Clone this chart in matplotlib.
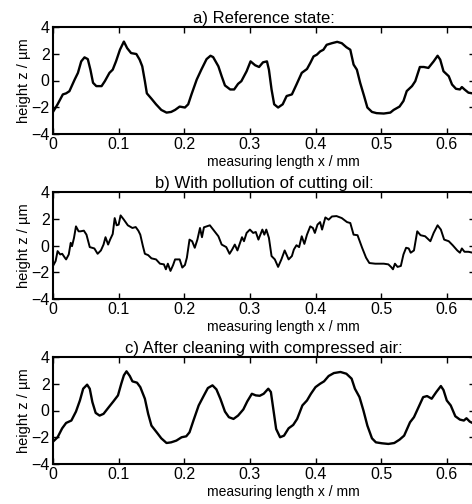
import matplotlib
matplotlib.use("Agg")
import matplotlib.pyplot as plt
import numpy as np

plt.rcParams['font.family'] = ['Liberation Sans', 'DejaVu Sans']

# a) reference state
xa = [0.0, 0.007, 0.015, 0.02, 0.025, 0.033, 0.038, 0.043, 0.048, 0.053, 0.057, 0.061, 0.066,
      0.074, 0.079, 0.086, 0.091, 0.096, 0.102, 0.108, 0.113, 0.119, 0.127, 0.132, 0.136, 0.14,
      0.143, 0.15, 0.157, 0.165, 0.173, 0.18, 0.186, 0.193, 0.201, 0.206, 0.211, 0.219, 0.226,
      0.234, 0.24, 0.244, 0.252, 0.257, 0.262, 0.27, 0.276, 0.282, 0.287, 0.295, 0.301, 0.308,
      0.314, 0.32, 0.326, 0.329, 0.333, 0.337, 0.343, 0.35, 0.356, 0.364, 0.371, 0.379, 0.387,
      0.392, 0.397, 0.402, 0.407, 0.412, 0.417, 0.425, 0.433, 0.44, 0.447, 0.453, 0.458, 0.463,
      0.468, 0.474, 0.479, 0.486, 0.493, 0.504, 0.514, 0.519, 0.528, 0.534, 0.539, 0.547, 0.552,
      0.559, 0.565, 0.572, 0.58, 0.586, 0.59, 0.595, 0.603, 0.608, 0.614, 0.62, 0.623, 0.627,
      0.633, 0.639, 0.645]
za = [-2.35, -1.78, -1.04, -0.96, -0.8, 0.07, 0.57, 1.43, 1.73, 1.6, 0.81, -0.17, -0.42,
      -0.42, -0.05, 0.57, 0.81, 1.43, 2.3, 2.91, 2.42, 2.05, 1.98, 1.56, 1.06, -0.05,
      -0.96, -1.36, -1.78, -2.2, -2.4, -2.35, -2.2, -1.95, -2.02, -1.78, -1.04, 0.07, 0.81,
      1.6, 1.85, 1.75, 1.06, 0.32, -0.37, -0.67, -0.67, -0.25, -0.05, 0.69, 1.43, 1.14,
      1.01, 1.36, 1.43, 0.81, -0.67, -1.78, -2.02, -1.78, -1.16, -1.04, -0.3, 0.57, 0.86,
      1.31, 1.8, 1.93, 2.17, 2.3, 2.67, 2.79, 2.89, 2.79, 2.49, 2.3, 1.19, 0.81,
      -0.17, -1.16, -2.02, -2.35, -2.44, -2.47, -2.4, -2.2, -1.95, -1.53, -0.79, -0.42, -0.05,
      1.01, 1.01, 0.94, 1.43, 1.85, 1.56, 0.69, 0.32, -0.3, -0.62, -0.67, -0.49, -0.67,
      -0.91, -0.96, -0.98]

# b) with pollution of cutting oil
xb = [0.0, 0.004, 0.007, 0.011, 0.014, 0.018, 0.02, 0.024, 0.027, 0.029, 0.032, 0.035, 0.039,
      0.042, 0.047, 0.051, 0.056, 0.063, 0.068, 0.073, 0.077, 0.08, 0.084, 0.087, 0.091, 0.094,
      0.097, 0.1, 0.103, 0.108, 0.114, 0.121, 0.126, 0.13, 0.133, 0.137, 0.14, 0.145, 0.15,
      0.157, 0.163, 0.169, 0.172, 0.175, 0.179, 0.183, 0.186, 0.193, 0.197, 0.201, 0.204, 0.208,
      0.212, 0.216, 0.22, 0.224, 0.227, 0.23, 0.234, 0.239, 0.244, 0.252, 0.257, 0.264, 0.269,
      0.273, 0.277, 0.281, 0.285, 0.288, 0.291, 0.295, 0.3, 0.305, 0.309, 0.313, 0.316, 0.319,
      0.322, 0.325, 0.329, 0.333, 0.338, 0.343, 0.348, 0.353, 0.359, 0.364, 0.367, 0.371, 0.375,
      0.379, 0.383, 0.387, 0.392, 0.396, 0.399, 0.403, 0.407, 0.41, 0.415, 0.42, 0.425, 0.432,
      0.44, 0.448, 0.453, 0.458, 0.464, 0.471, 0.477, 0.482, 0.491, 0.504, 0.511, 0.515, 0.518,
      0.521, 0.525, 0.53, 0.534, 0.538, 0.542, 0.545, 0.55, 0.555, 0.56, 0.567, 0.575, 0.58,
      0.586, 0.591, 0.596, 0.603, 0.609, 0.616, 0.62, 0.623, 0.627, 0.633, 0.639, 0.645]
zb = [-1.53, -1.16, -0.42, -0.67, -0.62, -0.91, -1.04, -0.67, 0.2, -0.05, 0.57, 1.43, 1.06,
      1.06, 1.11, 0.81, -0.12, -0.22, -0.62, -0.37, 0.07, 0.62, 0.07, 0.44, 0.86, 2.05,
      1.51, 1.56, 2.25, 1.93, 1.51, 1.31, 1.38, 1.11, 0.81, -0.05, -0.62, -0.72, -0.96,
      -1.04, -1.36, -1.41, -1.78, -1.36, -1.9, -1.46, -1.04, -1.04, -1.65, -1.46, -0.91, 0.44,
      0.32, -0.17, 0.44, 1.31, 0.62, 1.36, 1.43, 1.51, 1.19, 0.69, 0.07, -0.12, -0.62,
      -0.3, 0.07, -0.37, 0.2, 0.62, 0.32, 0.94, 1.19, 0.94, 1.01, 0.44, 0.81, 1.19,
      0.81, 1.19, 0.57, -0.79, -1.04, -1.6, -1.04, -0.37, -1.04, -0.79, -0.3, 0.02, -0.12,
      0.69, 0.12, 0.81, 1.43, 1.31, 0.94, 1.56, 1.75, 1.19, 2.1, 1.93, 2.17, 2.2,
      2.05, 1.75, 1.68, 0.81, 0.77, -0.17, -0.91, -1.31, -1.36, -1.36, -1.41, -1.6, -1.78,
      -1.36, -1.6, -1.53, -0.67, -0.17, -0.22, -0.54, -0.37, 1.06, 0.77, 0.69, 0.32, 0.94,
      1.51, 1.19, 0.44, 0.32, 0.02, -0.37, -0.54, -0.22, -0.47, -0.47, -0.54, -0.56]

# c) after cleaning with compressed air
xc = [0.0, 0.007, 0.014, 0.02, 0.028, 0.035, 0.041, 0.046, 0.052, 0.056, 0.06, 0.065, 0.071,
      0.077, 0.085, 0.092, 0.099, 0.104, 0.108, 0.112, 0.117, 0.121, 0.128, 0.133, 0.14, 0.145,
      0.15, 0.158, 0.165, 0.173, 0.18, 0.188, 0.196, 0.203, 0.208, 0.214, 0.222, 0.23, 0.236,
      0.243, 0.249, 0.255, 0.262, 0.268, 0.275, 0.282, 0.29, 0.296, 0.303, 0.309, 0.315, 0.321,
      0.328, 0.332, 0.336, 0.34, 0.346, 0.352, 0.359, 0.366, 0.372, 0.38, 0.387, 0.393, 0.4,
      0.407, 0.413, 0.42, 0.428, 0.438, 0.447, 0.455, 0.46, 0.467, 0.473, 0.479, 0.486, 0.492,
      0.501, 0.511, 0.52, 0.528, 0.535, 0.544, 0.55, 0.557, 0.564, 0.57, 0.577, 0.584, 0.591,
      0.595, 0.6, 0.606, 0.613, 0.62, 0.626, 0.63, 0.635, 0.639, 0.645]
zc = [-2.33, -2.0, -1.33, -0.93, -0.75, -0.08, 0.75, 1.63, 1.93, 1.63, 0.63, -0.18, -0.38,
      -0.25, 0.25, 0.68, 1.13, 2.0, 2.63, 2.93, 2.58, 2.18, 2.08, 1.75, 0.88, -0.25,
      -1.13, -1.63, -2.08, -2.43, -2.38, -2.25, -2.0, -1.93, -1.63, -0.75, 0.38, 1.13, 1.68,
      1.88, 1.58, 0.88, -0.08, -0.5, -0.63, -0.38, 0.08, 0.68, 1.25, 1.13, 1.1, 1.25,
      1.63, 1.38, 0.0, -1.38, -2.0, -1.88, -1.33, -1.08, -0.63, 0.38, 0.75, 1.25, 1.75,
      2.0, 2.18, 2.58, 2.8, 2.88, 2.75, 2.38, 1.63, 1.0, 0.0, -1.13, -2.08, -2.38,
      -2.45, -2.5, -2.43, -2.18, -1.88, -0.88, -0.5, 0.25, 1.0, 1.08, 0.88, 1.38, 1.83,
      1.53, 0.75, 0.38, -0.43, -0.68, -0.75, -0.58, -0.83, -0.93, -0.95]

titles = ["a) Reference state:",
          "b) With pollution of cutting oil:",
          "c) After cleaning with compressed air:"]
xticks = [0, 0.1, 0.2, 0.3, 0.4, 0.5, 0.6]
xticklabels = ["0", "0.1", "0.2", "0.3", "0.4", "0.5", "0.6"]
yticks = [-4, -2, 0, 2, 4]

fig = plt.figure(figsize=(4.72, 5.04), dpi=100)
left = 53 / 472
width = (475 - 53) / 472
tops = [27, 192, 357]
h = 107 / 504

for i, (x, z) in enumerate([(xa, za), (xb, zb), (xc, zc)]):
    bottom = 1 - (tops[i] + 107) / 504
    ax = fig.add_axes([left, bottom, width, h])
    ax.plot(x, z, color="black", linewidth=1.7 if i != 1 else 1.4, solid_joinstyle="round")
    ax.set_xlim(0, 0.643)
    ax.set_ylim(-4, 4)
    ax.set_xticks(xticks)
    ax.set_xticklabels(xticklabels)
    ax.set_yticks(yticks)
    ax.tick_params(direction="in", top=True, right=True, length=4, width=1,
                   labelsize=11.5, pad=2.5)
    for s in ax.spines.values():
        s.set_linewidth(1.5)
    ax.set_title(titles[i], fontsize=12, pad=3)
    ax.set_xlabel("measuring length x / mm", fontsize=10)
    ax.xaxis.set_label_coords(0.546, -0.2)
    ax.set_ylabel("height z / µm", fontsize=10.5, labelpad=0)

fig.savefig("out.png", dpi=100)
